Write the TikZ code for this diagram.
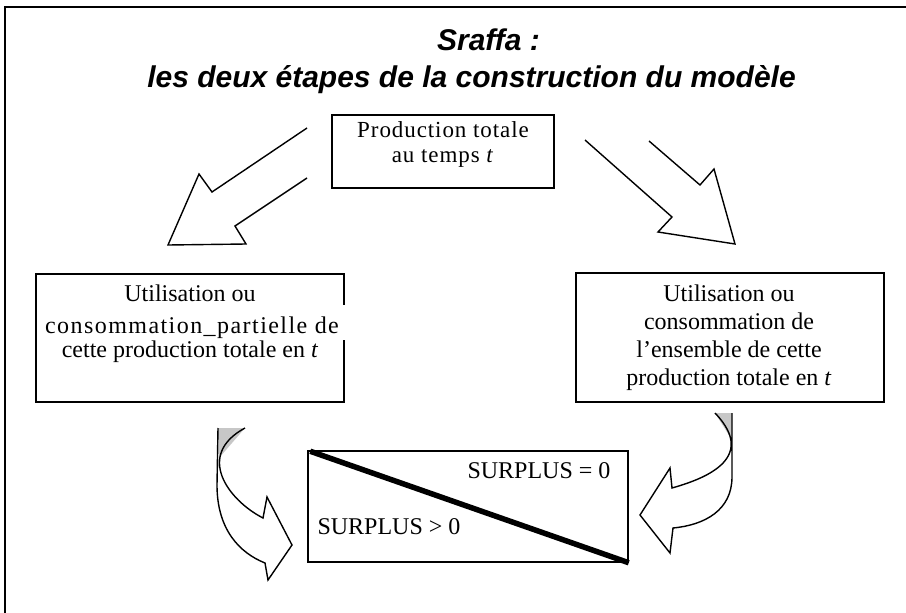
\documentclass[tikz,border=0pt]{standalone}
\usepackage{fontspec}
\setmainfont{Liberation Serif}
\newfontfamily\titlefont{Liberation Sans}
\begin{document}
\begin{tikzpicture}[x=1pt,y=-1pt,
  frameline/.style={line width=2.2pt},
  boxstyle/.style={draw, line width=1.5pt, inner sep=0pt},
  bodytxt/.style={font=\fontsize{24}{28}\selectfont, inner sep=0pt, anchor=base},
  prodtxt/.style={font=\fontsize{23}{26}\selectfont\addfontfeature{LetterSpace=4}, inner sep=0pt, anchor=base},
  titletxt/.style={font=\titlefont\bfseries\itshape\fontsize{30}{36}\selectfont, inner sep=0pt, anchor=base},
  arrowline/.style={draw, line width=1.4pt, line join=miter},
  graypart/.style={fill=black!22}
]
\useasboundingbox (0,0) rectangle (906,613);
\fill[white] (0,0) rectangle (906,613);

% frame
\draw[frameline] (5,613) -- (5,7) -- (906,7);

% title
\node[titletxt] (t1) at (488.5,50) {Sraffa :};
\node[titletxt] (t2) at (471.5,87) {les deux étapes de la construction du modèle};

% top box
\node[boxstyle, minimum width=222, minimum height=73] (prod) at (443,151.5) {};
\node[prodtxt] (p1) at (443,137) {Production totale};
\node[prodtxt] (p2) at (443,162) {au temps \textit{t}};

% big hollow arrows
\draw[arrowline] (307,128) -- (212,192) -- (199,174) -- (168,245) -- (246,244) -- (235,226) -- (307,178);
\draw[arrowline] (585,140) -- (672,217) -- (658,232) -- (735,244) -- (714,169) -- (700,185) -- (649,141);

% left box
\node[boxstyle, minimum width=308, minimum height=128] (lbox) at (190,338) {};
\node[bodytxt] (l1) at (190,301) {Utilisation ou};
\node[bodytxt, fill=white, text height=28, text depth=7, inner xsep=7] (l2) at (192,333)
  {\addfontfeature{LetterSpace=6}consommation\_partielle de};
\node[bodytxt] (l3) at (190,357) {cette production totale en \textit{t}};

% right box
\node[boxstyle, minimum width=308, minimum height=129] (rbox) at (730,337.5) {};
\node[bodytxt] (r1) at (729,301) {Utilisation ou};
\node[bodytxt] (r2) at (729,329) {consommation de};
\node[bodytxt] (r3) at (729,357) {l’ensemble de cette};
\node[bodytxt] (r4) at (729,385) {production totale en \textit{t}};

% bottom box
\node[boxstyle, minimum width=320, minimum height=111] (sbox) at (468,506.5) {};
\draw[line width=5.5pt] ([xshift=3pt,yshift=-1pt]sbox.north west) -- (sbox.south east);
\node[bodytxt] (s0) at (539,478) {SURPLUS = 0};
\node[bodytxt] (s1) at (389,534) {SURPLUS > 0};

% left curved arrow
\fill[graypart] (218,428) -- (245,428) -- (219,458) -- cycle;
\draw[arrowline] (218,428) -- (217,485) .. controls (217,530) and (240,553) .. (265,563)
  -- (268,580) -- (292,545) -- (267,497) -- (263,518)
  .. controls (228,500) and (195,455) .. (245,428);

% right curved arrow
\fill[graypart] (715,413) -- (732,413) -- (732,440) -- cycle;
\draw[arrowline] (732,413) -- (732,477) .. controls (732,510) and (705,525) .. (673,528)
  -- (670,553) -- (640,515) -- (670,468) -- (672,488)
  .. controls (700,480) and (760,460) .. (715,413);
\end{tikzpicture}
\end{document}
